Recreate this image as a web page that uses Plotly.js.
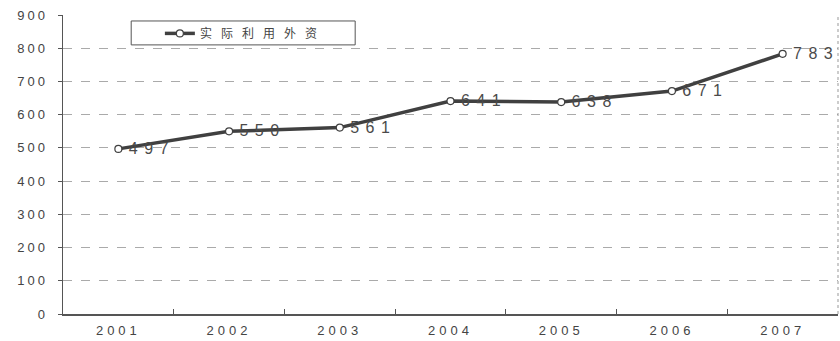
<!DOCTYPE html>
<html>
<head>
<meta charset="utf-8">
<script src="https://cdn.plot.ly/plotly-3.0.1.min.js"></script>
<style>
  html, body { margin: 0; padding: 0; background: #fff; }
  #chart { width: 840px; height: 341px; }
  /* wide tracking on the numerals and the legend label */
  #chart .textpoint text { letter-spacing: 6.5px; transform: translate(5px, 1px); }
  #chart .xtick text { letter-spacing: 4px; }
  #chart .ytick text { letter-spacing: 3px; }
  #chart .legendtext { letter-spacing: 9px; }
  #chart .legend .scrollbox { clip-path: none !important; }
</style>
</head>
<body>
<div id="chart"></div>
<script>
// 实际利用外资（亿美元）
const years = ['2001', '2002', '2003', '2004', '2005', '2006', '2007'];
const utilizedForeignCapital = [497, 550, 561, 641, 638, 671, 783];
const seriesName = '实际利用外资';

const trace = {
  type: 'scatter',
  mode: 'lines+markers+text',
  name: seriesName,
  x: years,
  y: utilizedForeignCapital,
  text: utilizedForeignCapital.map(String),
  textposition: 'middle right',
  textfont: { family: 'Liberation Sans, Arial, sans-serif', size: 16, color: '#4a4a4a' },
  line: { color: '#404040', width: 3.5 },
  marker: { symbol: 'circle', size: 7, color: '#fff', line: { color: '#404040', width: 1.2 } },
  cliponaxis: false
};

const layout = {
  width: 840,
  height: 341,
  margin: { l: 63, r: 2, t: 15, b: 27 },
  paper_bgcolor: '#fff',
  plot_bgcolor: '#fff',
  font: { family: 'Liberation Sans, Arial, sans-serif', color: '#444', size: 13 },
  showlegend: true,
  legend: {
    x: 0.125, y: 0.987, xanchor: 'left', yanchor: 'top',
    bgcolor: 'rgba(0,0,0,0)', borderwidth: 0,
    font: { family: 'Noto Sans CJK SC, sans-serif', size: 12, color: '#444' },
    itemwidth: 30
  },
  xaxis: {
    type: 'category',
    range: [-0.5, 6.5],
    tickson: 'boundaries',
    ticks: 'inside',
    ticklen: 5,
    tickcolor: '#555',
    ticklabelstandoff: 4,
    showline: true,
    linecolor: '#555',
    linewidth: 1.5,
    showgrid: false,
    tickfont: { size: 13, color: '#444' },
    fixedrange: true
  },
  yaxis: {
    range: [0, 900],
    dtick: 100,
    ticks: 'outside',
    ticklen: 4,
    tickcolor: '#555',
    ticklabelstandoff: 7,
    showline: true,
    linecolor: '#555',
    linewidth: 1.5,
    showgrid: true,
    gridcolor: '#aaa',
    griddash: 'dash',
    gridwidth: 1,
    zeroline: false,
    tickfont: { size: 13, color: '#444' },
    fixedrange: true
  },
  shapes: [
    // dashed right-hand frame
    { type: 'line', xref: 'paper', yref: 'paper', x0: 1, x1: 1, y0: 0, y1: 1,
      line: { color: '#999', width: 1, dash: 'dot' } },
    // legend frame
    { type: 'rect', xref: 'paper', yref: 'paper', x0: 0.088, x1: 0.377, y0: 0.9, y1: 0.98,
      fillcolor: '#fff', line: { color: '#555', width: 1 }, layer: 'below' }
  ]
};

Plotly.newPlot('chart', [trace], layout, { staticPlot: true, displayModeBar: false });
</script>
</body>
</html>
